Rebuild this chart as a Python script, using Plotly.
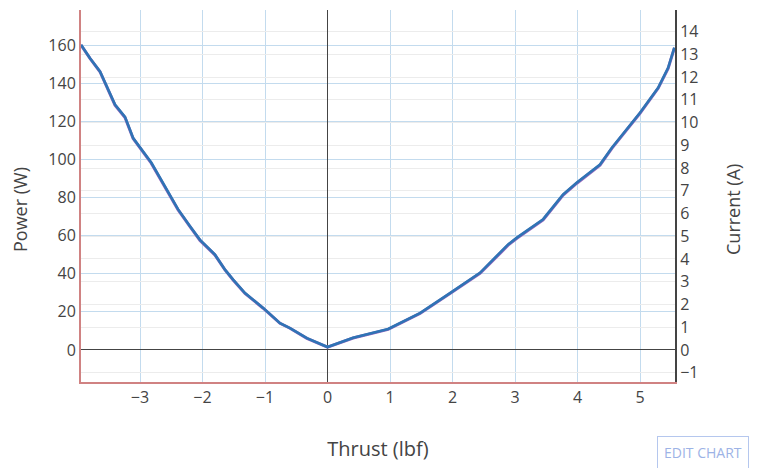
import plotly.graph_objects as go

thrust = [-3.944, -3.80, -3.64, -3.40, -3.24, -3.11, -2.82, -2.60, -2.39, -2.20, -2.04,
          -1.80, -1.64, -1.51, -1.32, -1.03, -0.76, -0.60, -0.33, 0.0, 0.41,
          0.97, 1.16, 1.48, 1.96, 2.44, 2.76, 2.89, 3.03, 3.45, 3.77,
          3.99, 4.36, 4.55, 5.00, 5.29, 5.45, 5.51, 5.55]
power = [160, 153, 146, 128.5, 122, 111, 98, 85.7, 73.5, 64.7, 57.5,
         49.8, 42, 36.7, 29.7, 21.9, 14, 11.4, 6.1, 1.5, 6.3,
         10.8, 14, 19.2, 29.7, 40.2, 50.7, 55, 58.6, 68.2, 81.3,
         87.5, 97, 105.8, 124.2, 137.3, 147.8, 154.8, 158.5]
current = [13.42, 12.83, 12.25, 10.79, 10.25, 9.32, 8.24, 7.20, 6.18, 5.44, 4.84,
           4.19, 3.53, 3.09, 2.50, 1.85, 1.18, 0.96, 0.52, 0.13, 0.54,
           0.92, 1.18, 1.62, 2.50, 3.39, 4.28, 4.64, 4.94, 5.75, 6.84,
           7.36, 8.15, 8.89, 10.43, 11.53, 12.41, 13.00, 13.30]

x_ticks = [-3, -2, -1, 0, 1, 2, 3, 4, 5]
y_ticks = [0, 20, 40, 60, 80, 100, 120, 140, 160]
y2_ticks = list(range(-1, 15))

fig = go.Figure()
fig.add_trace(go.Scatter(x=thrust, y=power, mode="lines", name="Power (W)",
                         line=dict(color="#9467bd", width=3), yaxis="y"))
fig.add_trace(go.Scatter(x=thrust, y=current, mode="lines", name="Current (A)",
                         line=dict(color="#2f74b5", width=2.6), yaxis="y2"))

grid_blue = "#c3dbee"
fig.update_layout(
    width=757, height=468,
    margin=dict(l=73, r=90, t=2, b=94),
    paper_bgcolor="white", plot_bgcolor="white",
    font=dict(family="Open Sans", size=16, color="#444"),
    showlegend=False,
    xaxis=dict(
        title=dict(text="Thrust (lbf)", font=dict(size=20), standoff=35),
        range=[-3.944, 5.56], tickvals=x_ticks, ticks="",
        showgrid=True, gridcolor=grid_blue, gridwidth=1,
        zeroline=True, zerolinecolor="#444", zerolinewidth=1,
        showline=True, linecolor="#d08282", linewidth=2,
    ),
    yaxis=dict(
        range=[-16.8, 178.4], tickvals=y_ticks, ticks="",
        showgrid=True, gridcolor=grid_blue, gridwidth=1,
        zeroline=True, zerolinecolor="#444", zerolinewidth=1,
        showline=True, linecolor="#d08282", linewidth=2,
    ),
    yaxis2=dict(
        overlaying="y", side="right",
        range=[-1.41, 14.95], tickvals=y2_ticks, ticks="",
        showgrid=True, gridcolor="#ececec", gridwidth=1,
        zeroline=True, zerolinecolor="#444", zerolinewidth=1,
        showline=True, linecolor="#444", linewidth=2,
    ),
)

fig.add_annotation(text="Power (W)", xref="paper", yref="paper",
                   x=-0.1027, y=0.465, xanchor="center", yanchor="middle",
                   textangle=-90, showarrow=False, font=dict(size=18, color="#444"))
fig.add_annotation(text="Current (A)", xref="paper", yref="paper",
                   x=1.0976, y=0.465, xanchor="center", yanchor="middle",
                   textangle=-90, showarrow=False, font=dict(size=18, color="#444"))

fig.add_annotation(
    text="EDIT CHART", xref="paper", yref="paper",
    x=0.9697, y=-0.145, xanchor="left", yanchor="top", showarrow=False,
    font=dict(family="Open Sans", size=14, color="#9db3e6"),
    bordercolor="#b5c7ee", borderwidth=1, borderpad=6, bgcolor="white",
)

fig.write_html("out.html")
